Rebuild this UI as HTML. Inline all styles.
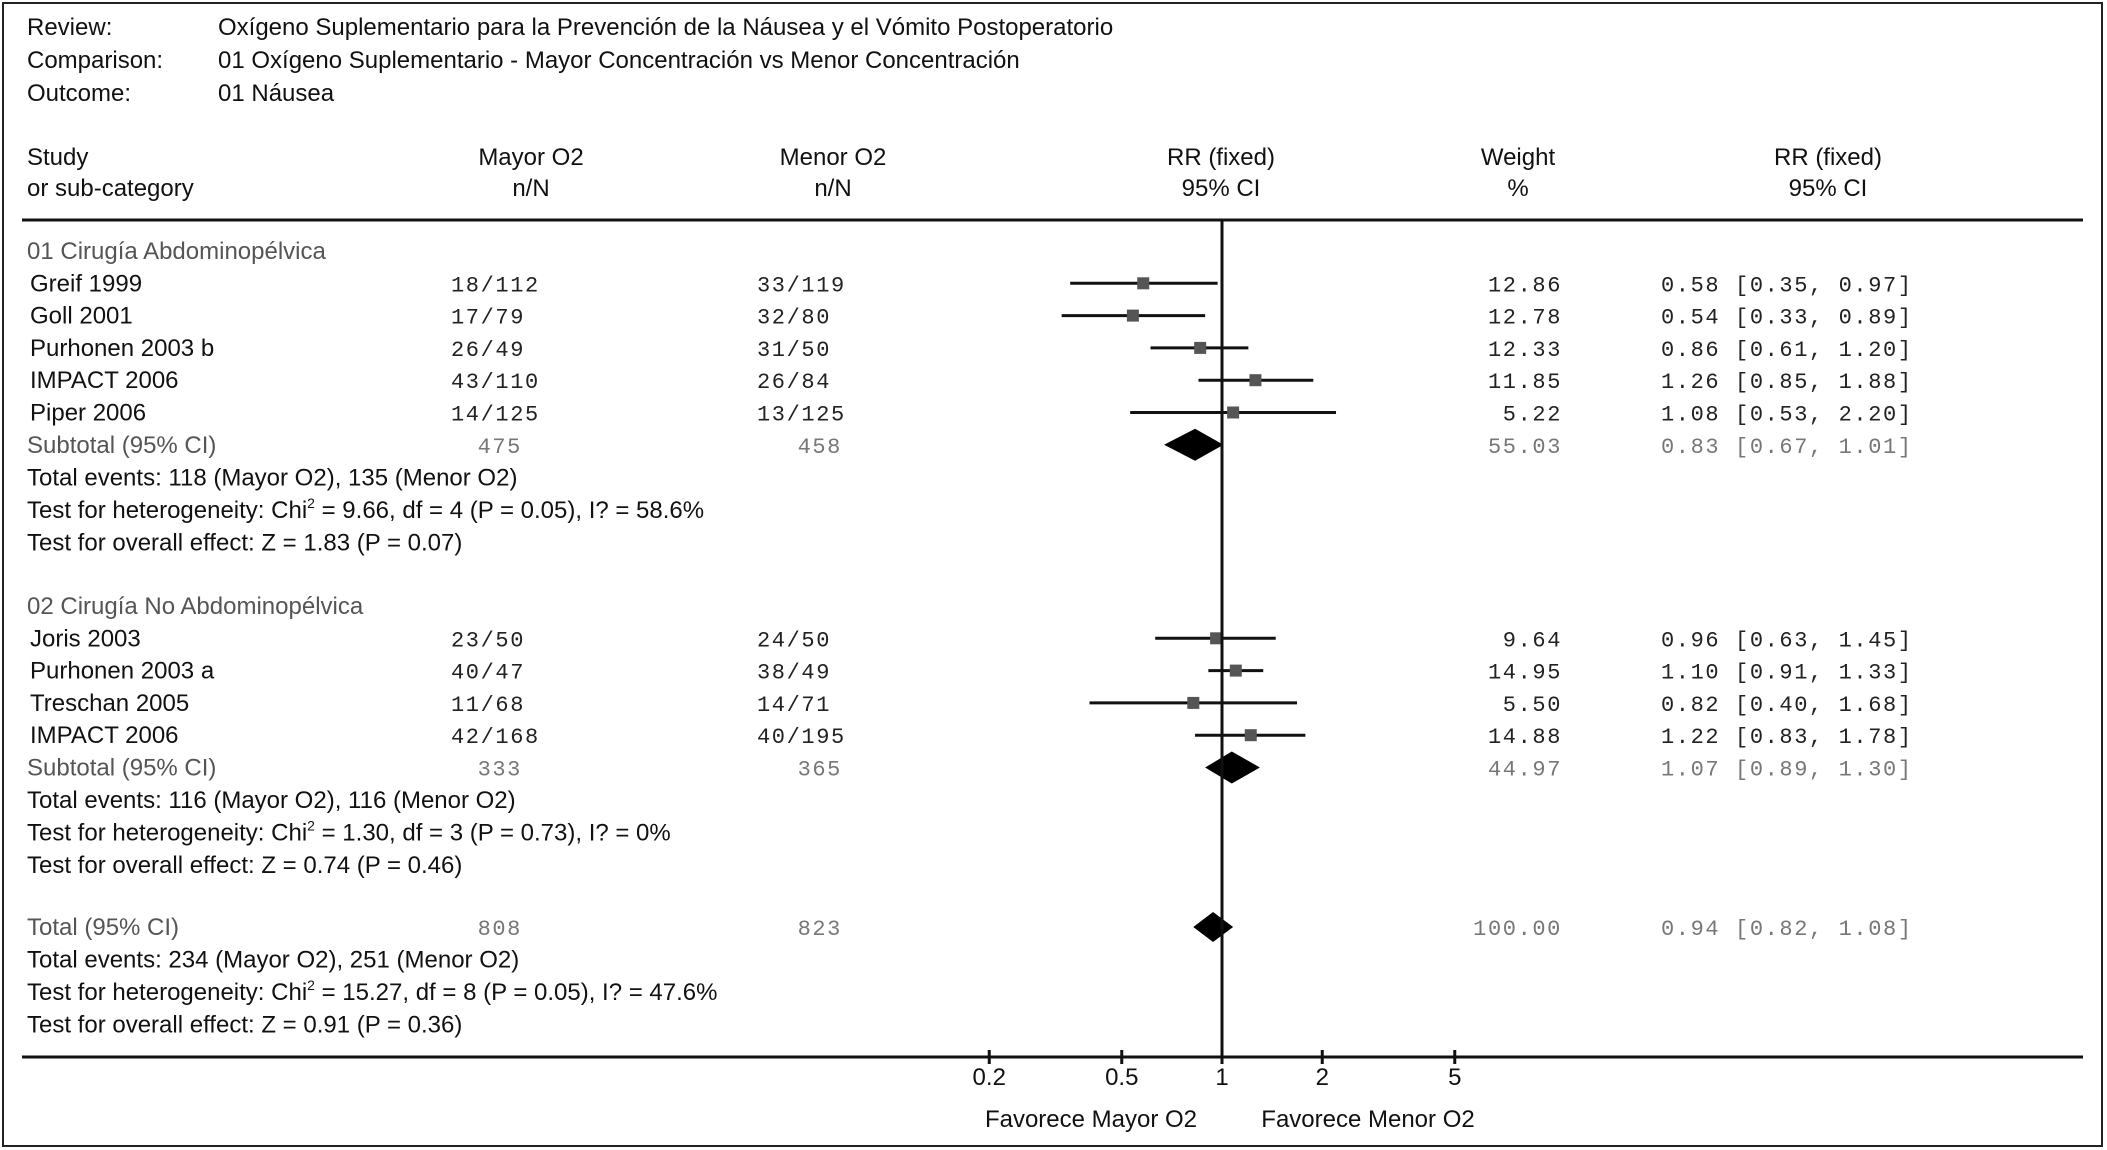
<!DOCTYPE html>
<html><head><meta charset="utf-8"><style>
html,body{margin:0;padding:0;background:#fff;}
svg{display:block;}
.s{font-family:"Liberation Sans",Arial,sans-serif;font-size:24px;fill:#111;}
.g{fill:#555;}
.m{font-family:"Liberation Mono",monospace;font-size:22px;letter-spacing:1.6px;fill:#222;}
.mg{fill:#777;}
</style></head><body>
<svg id="chart" width="2107" height="1150" viewBox="0 0 2107 1150" xmlns="http://www.w3.org/2000/svg">
<rect x="3" y="3" width="2099" height="1143" fill="none" stroke="#222" stroke-width="2"/>
<g>
<text class="s" x="27" y="35">Review:</text>
<text class="s" x="218" y="35">Oxígeno Suplementario para la Prevención de la Náusea y el Vómito Postoperatorio</text>
<text class="s" x="27" y="68">Comparison:</text>
<text class="s" x="218" y="68">01 Oxígeno Suplementario - Mayor Concentración vs Menor Concentración</text>
<text class="s" x="27" y="101">Outcome:</text>
<text class="s" x="218" y="101">01 Náusea</text>
</g>
<g>
<text class="s" x="27" y="165">Study</text>
<text class="s" x="27" y="196">or sub-category</text>
<text class="s" x="531" y="165" text-anchor="middle">Mayor O2</text>
<text class="s" x="531" y="196" text-anchor="middle">n/N</text>
<text class="s" x="833" y="165" text-anchor="middle">Menor O2</text>
<text class="s" x="833" y="196" text-anchor="middle">n/N</text>
<text class="s" x="1221" y="165" text-anchor="middle">RR (fixed)</text>
<text class="s" x="1221" y="196" text-anchor="middle">95% CI</text>
<text class="s" x="1518" y="165" text-anchor="middle">Weight</text>
<text class="s" x="1518" y="196" text-anchor="middle">%</text>
<text class="s" x="1828" y="165" text-anchor="middle">RR (fixed)</text>
<text class="s" x="1828" y="196" text-anchor="middle">95% CI</text>
</g>
<line x1="22" y1="220" x2="2083" y2="220" stroke="#111" stroke-width="3"/>
<line x1="22" y1="1057" x2="2083" y2="1057" stroke="#111" stroke-width="3"/>
<g id="rows"></g>
<g id="axis"></g>
</svg>
<script>
const studies = ["Greif 1999","Goll 2001","Purhonen 2003 b","IMPACT 2006","Piper 2006","Joris 2003","Purhonen 2003 a","Treschan 2005","IMPACT 2006"];
const mayorN = ["18/112","17/79","26/49","43/110","14/125","23/50","40/47","11/68","42/168"];
const menorN = ["33/119","32/80","31/50","26/84","13/125","24/50","38/49","14/71","40/195"];
const rr = [0.58,0.54,0.86,1.26,1.08,0.96,1.10,0.82,1.22];
const lo = [0.35,0.33,0.61,0.85,0.53,0.63,0.91,0.40,0.83];
const hi = [0.97,0.89,1.20,1.88,2.20,1.45,1.33,1.68,1.78];
const weights = ["12.86","12.78","12.33","11.85","5.22","9.64","14.95","5.50","14.88"];
const sumLabels = ["Subtotal (95% CI)","Subtotal (95% CI)","Total (95% CI)"];
const sumMayor = ["475","333","808"];
const sumMenor = ["458","365","823"];
const sumRR = [0.83,1.07,0.94];
const sumLo = [0.67,0.89,0.82];
const sumHi = [1.01,1.30,1.08];
const sumW = ["55.03","44.97","100.00"];
const statLines = [
 ["Total events: 118 (Mayor O2), 135 (Menor O2)","Test for heterogeneity: Chi|2| = 9.66, df = 4 (P = 0.05), I? = 58.6%","Test for overall effect: Z = 1.83 (P = 0.07)"],
 ["Total events: 116 (Mayor O2), 116 (Menor O2)","Test for heterogeneity: Chi|2| = 1.30, df = 3 (P = 0.73), I? = 0%","Test for overall effect: Z = 0.74 (P = 0.46)"],
 ["Total events: 234 (Mayor O2), 251 (Menor O2)","Test for heterogeneity: Chi|2| = 15.27, df = 8 (P = 0.05), I? = 47.6%","Test for overall effect: Z = 0.91 (P = 0.36)"]];
const groupTitles = ["01 Cirugía Abdominopélvica","02 Cirugía No Abdominopélvica"];
const tickVals = [0.2,0.5,1,2,5];
const tickLabels = ["0.2","0.5","1","2","5"];

const NS="http://www.w3.org/2000/svg";
const X0=1222, DEC=333;
function xs(v){return X0+DEC*Math.log10(v);}
const fmt=v=>v.toFixed(2);
const rowsG=document.getElementById('rows');
const axG=document.getElementById('axis');
function mk(tag,attrs,parent){const e=document.createElementNS(NS,tag);for(const k in attrs)e.setAttribute(k,attrs[k]);(parent||rowsG).appendChild(e);return e;}
function txt(cls,x,y,s,anchor,parent){const t=mk('text',{class:cls,x:x,y:y},parent);if(anchor)t.setAttribute('text-anchor',anchor);
 if(s.indexOf('|')>=0){const p=s.split('|');t.appendChild(document.createTextNode(p[0]));const sp=mk('tspan',{'font-size':'14','dy':'-10'},t);sp.textContent=p[1];const r=mk('tspan',{'dy':'10'},t);r.textContent=p[2];}
 else t.textContent=s;return t;}

const groupStart=[251,606];
const groupIdx=[[0,1,2,3,4],[5,6,7,8]];
const RH=32.3, BL=8;
function drawSummary(k,y){
 let t=txt('s g',27,y+BL,sumLabels[k]);
 
 
 t=txt('m mg',522,y+BL,sumMayor[k],'end');
 
 
 t=txt('m mg',842,y+BL,sumMenor[k],'end');
 
 
 t=txt('m mg',1562,y+BL,sumW[k],'end');
 
 
 t=txt('m mg',1661,y+BL,fmt(sumRR[k])+' ['+fmt(sumLo[k])+', '+fmt(sumHi[k])+']');
 
 
 const h=k==2?15:16;
 const d=mk('polygon',{points:`${xs(sumLo[k])},${y} ${xs(sumRR[k])},${y-h} ${xs(sumHi[k])},${y} ${xs(sumRR[k])},${y+h}`,fill:'#000'});
 
 
 statLines[k].forEach((s,j)=>{const st=txt('s',27,y+BL+32.5*(j+1),s);
  
  });
}
groupIdx.forEach((idx,g)=>{
 const y0=groupStart[g];
 const gt=txt('s g',27,y0+BL,groupTitles[g]);
 
 
 idx.forEach((i,r)=>{
  const y=y0+RH*(r+1);
  let t=txt('s',30,y+BL,studies[i]);
  
  
  t=txt('m',451,y+BL,mayorN[i]);
  
  
  t=txt('m',757,y+BL,menorN[i]);
  
  
  t=txt('m',1562,y+BL,weights[i],'end');
  
  
  t=txt('m',1661,y+BL,fmt(rr[i])+' ['+fmt(lo[i])+', '+fmt(hi[i])+']');
  
  
  const l=mk('line',{x1:xs(lo[i]),x2:xs(hi[i]),y1:y,y2:y,stroke:'#111','stroke-width':3});
  
  
  const sq=mk('rect',{x:xs(rr[i])-6,y:y-6,width:12,height:12,fill:'#555'});
  
  
 });
 drawSummary(g,y0+RH*(idx.length+1));
});
drawSummary(2,927);

const vl=mk('line',{x1:X0,x2:X0,y1:220,y2:1064,stroke:'#111','stroke-width':3},axG);


tickVals.forEach((v,i)=>{
 const x=xs(v);
 const tk=mk('line',{x1:x,x2:x,y1:1050,y2:1064,stroke:'#111','stroke-width':3},axG);
 
 
 const tl=txt('s',x,1085,tickLabels[i],'middle',axG);
 
 
});
let f=txt('s',1091,1127,'Favorece Mayor O2','middle',axG);


f=txt('s',1368,1127,'Favorece Menor O2','middle',axG);


</script>
</body></html>
